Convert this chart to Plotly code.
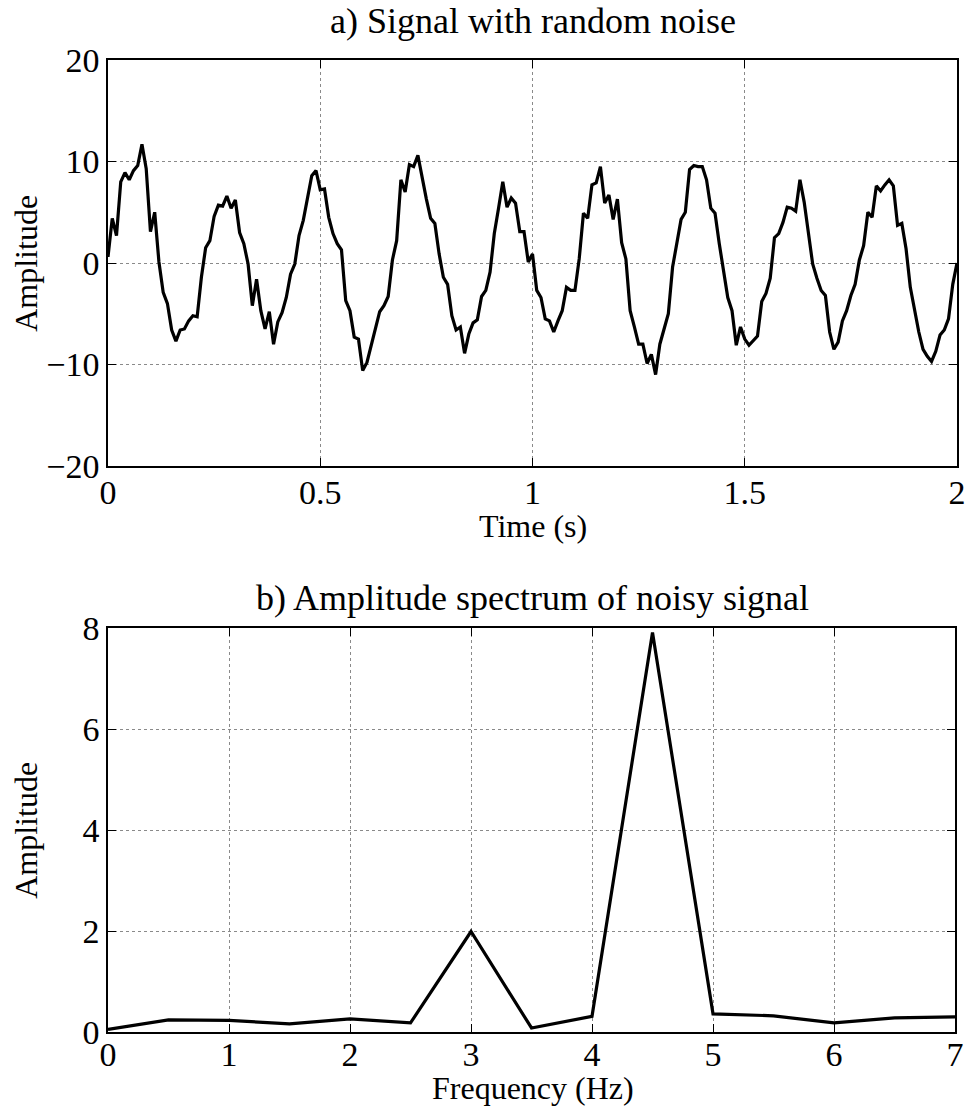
import numpy as np
import plotly.graph_objects as go

# ---- Data ----
signal_values = [
    0.6, 4.4, 2.7, 8.0, 8.9, 8.2, 9.1, 9.6, 11.7, 9.3, 3.1, 5.0, 0.1, -2.9, -4.0, -6.6, -7.7, -6.6, -6.5, -5.7,
    -5.2, -5.3, -1.4, 1.5, 2.2, 4.6, 5.7, 5.6, 6.6, 5.4, 6.2,
    3.0, 1.9, -0.1, -4.2, -1.6, -4.7, -6.5, -4.8, -8.0, -5.8, -4.9, -3.4, -1.1, -0.1, 2.7, 4.2, 6.5, 8.6, 9.1,
    7.2, 7.3, 4.5, 2.9, 1.9, 1.3, -3.7, -4.7, -7.3, -7.5, -10.6, -9.8, -8.1, -6.3, -4.8, -4.2, -3.3,
    0.3, 2.2, 8.2, 7.0, 9.7, 9.5, 10.6, 8.3, 6.3, 4.4, 3.9, 0.9, -1.4, -2.1, -5.2, -6.6, -6.3, -8.9, -7.0, -5.9,
    -5.6, -3.3, -2.7, -0.9, 2.9, 5.4, 8.0, 5.5, 6.4, 5.9, 3.1, 3.1,
    0.1, 0.9, -2.7, -3.4, -5.5, -5.7, -6.8, -5.7, -4.7, -2.4, -2.7, -2.7, 0.4, 4.9, 4.4, 7.7, 7.9, 9.5, 5.9, 6.7,
    4.3, 6.3, 2.0, 0.4, -4.7, -6.3, -8.0, -8.0, -9.9, -9.0, -11.0, -8.0, -6.6,
    -5.0, -0.4, 2.1, 4.3, 5.0, 9.2, 9.6, 9.5, 9.5, 8.2, 5.4, 4.9, 1.9, -0.7, -3.4, -4.7, -8.1, -6.3, -7.5, -8.1,
    -7.6, -7.2, -3.8, -3.0, -1.5, 2.5, 2.9, 4.0, 5.5, 5.4, 5.1, 8.2, 6.0,
    2.9, -0.1, -1.5, -2.7, -3.2, -6.8, -8.5, -7.8, -5.7, -4.7, -3.2, -2.1, 0.3, 1.7, 5.0, 4.5, 7.6, 7.1, 7.7, 8.2,
    7.6, 3.7, 3.9, 1.4, -2.4, -4.8, -6.8, -8.5, -9.2, -9.7, -8.7, -7.1, -6.6, -5.5, -2.1, 0.0,
]
sample_interval = 0.01  # seconds
time_s = [round(i * sample_interval, 2) for i in range(len(signal_values))]

freq_hz = [0, 0.5, 1.0, 1.5, 2.0, 2.5, 3.0, 3.5, 4.0, 4.5, 5.0, 5.5, 6.0, 6.5, 7.0]
spectrum_amp = [0.05, 0.24, 0.23, 0.16, 0.26, 0.18, 1.99, 0.08, 0.31, 7.91, 0.36, 0.32, 0.18, 0.28, 0.30]

time_ticks = [0, 0.5, 1, 1.5, 2]
time_tick_labels = ["0", "0.5", "1", "1.5", "2"]
amp_ticks_top = [-20, -10, 0, 10, 20]
freq_ticks = [0, 1, 2, 3, 4, 5, 6, 7]
amp_ticks_bottom = [0, 2, 4, 6, 8]

# ---- Figure ----
W, H = 978, 1109
ML, MR, MT, MB = 108, 13, 60, 77
PW = W - ML - MR
PH = H - MT - MB
FONT = "Liberation Serif"
FS_TICK = 34
FS_LABEL = 32
FS_TITLE = 36

def py(ypx):
    return (H - MB - ypx) / PH

def px(xpx):
    return (xpx - ML) / PW

fig = go.Figure()
fig.add_trace(go.Scatter(x=time_s, y=signal_values, mode="lines",
                         line=dict(color="black", width=3.2), xaxis="x", yaxis="y",
                         showlegend=False))
fig.add_trace(go.Scatter(x=freq_hz, y=spectrum_amp, mode="lines",
                         line=dict(color="black", width=3.2), xaxis="x2", yaxis="y2",
                         showlegend=False))

axis_common = dict(
    showline=True, linecolor="black", linewidth=1.5, mirror="ticks",
    ticks="inside", ticklen=8, tickwidth=1, tickcolor="black",
    showgrid=True, gridcolor="#8a8a8a", griddash="dot", gridwidth=1,
    zeroline=False, tickfont=dict(family=FONT, size=FS_TICK, color="black"),
)

fig.update_layout(
    width=W, height=H,
    margin=dict(l=ML, r=MR, t=MT, b=MB),
    paper_bgcolor="white", plot_bgcolor="white",
    xaxis=dict(domain=[0, 1], range=[0, 2], tickvals=time_ticks, ticktext=time_tick_labels,
               anchor="y", ticklabelstandoff=-5, **axis_common),
    yaxis=dict(domain=[py(466), 1], range=[-20, 20], tickvals=amp_ticks_top,
               anchor="x", **axis_common),
    xaxis2=dict(domain=[0, px(963)], range=[0, 7], tickvals=freq_ticks,
                anchor="y2", ticklabelstandoff=-9, **axis_common),
    yaxis2=dict(domain=[0, py(628)], range=[0, 8], tickvals=amp_ticks_bottom,
                anchor="x2", **axis_common),
)

ann_title = dict(family=FONT, size=FS_TITLE, color="black")
ann_label = dict(family=FONT, size=FS_LABEL, color="black")
annotations = [
    dict(text="a) Signal with random noise", x=px(537), y=py(21), xref="paper", yref="paper",
         showarrow=False, font=ann_title, xanchor="center", yanchor="middle"),
    dict(text="Time (s)", x=px(537), y=py(526), xref="paper", yref="paper",
         showarrow=False, font=ann_label, xanchor="center", yanchor="middle"),
    dict(text="Amplitude", x=px(25), y=py(263), xref="paper", yref="paper", textangle=-90,
         showarrow=False, font=ann_label, xanchor="center", yanchor="middle"),
    dict(text="b) Amplitude spectrum of noisy signal", x=px(537), y=py(598), xref="paper", yref="paper",
         showarrow=False, font=ann_title, xanchor="center", yanchor="middle"),
    dict(text="Frequency (Hz)", x=px(537), y=py(1088), xref="paper", yref="paper",
         showarrow=False, font=ann_label, xanchor="center", yanchor="middle"),
    dict(text="Amplitude", x=px(25), y=py(830), xref="paper", yref="paper", textangle=-90,
         showarrow=False, font=ann_label, xanchor="center", yanchor="middle"),
]
fig.update_layout(annotations=annotations)

fig.write_html("out.html")
